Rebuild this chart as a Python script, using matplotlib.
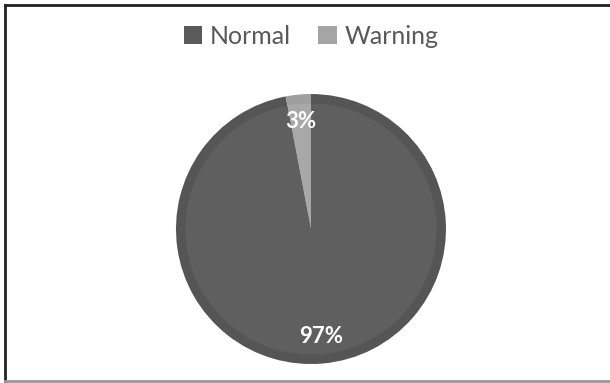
import matplotlib.pyplot as plt
from matplotlib.patches import Patch
from matplotlib.lines import Line2D

labels = ["Normal", "Warning"]
values = [97, 3]
colors = ["#5a5a5a", "#a5a5a5"]
inner_colors = ["#5f5f5f", "#a8a8a8"]
edge_colors = ["#555555", "#9e9e9e"]

plt.rcParams['font.family'] = ['Lato', 'DejaVu Sans']

fig = plt.figure(figsize=(6.1, 3.83), dpi=100)
ax = fig.add_axes([0.2885, 0.0495, 0.4426, 0.705])

# outer ring a bit darker, like the excel bevel
ax.pie(values, colors=edge_colors, startangle=90, counterclock=False,
       radius=1.0, wedgeprops=dict(linewidth=0))
wedges, texts, autotexts = ax.pie(values, colors=inner_colors, startangle=90,
                                  counterclock=False, radius=0.93,
                                  autopct="%d%%", pctdistance=0.86,
                                  wedgeprops=dict(linewidth=0),
                                  textprops=dict(color="white", fontsize=16, fontweight="bold"))
ax.set_xlim(-1.0, 1.0)
ax.set_ylim(-1.0, 1.0)
ax.set_aspect("equal")

handles = [Patch(facecolor=c, edgecolor="none") for c in colors]
fig.legend(handles, labels, loc="center", bbox_to_anchor=(0.51, 0.905), ncol=2,
           frameon=False, fontsize=18, labelcolor="#595959",
           handlelength=0.75, handleheight=0.75, handletextpad=0.3, columnspacing=1.1)

# chart border
fig.add_artist(Line2D([0.008, 1.0], [0.988, 0.988], color="#222222", lw=2))
fig.add_artist(Line2D([0.008, 0.008], [0.005, 0.988], color="#222222", lw=2))
fig.add_artist(Line2D([0.008, 1.0], [0.005, 0.005], color="#999999", lw=2))

fig.savefig("out.png", dpi=100)
